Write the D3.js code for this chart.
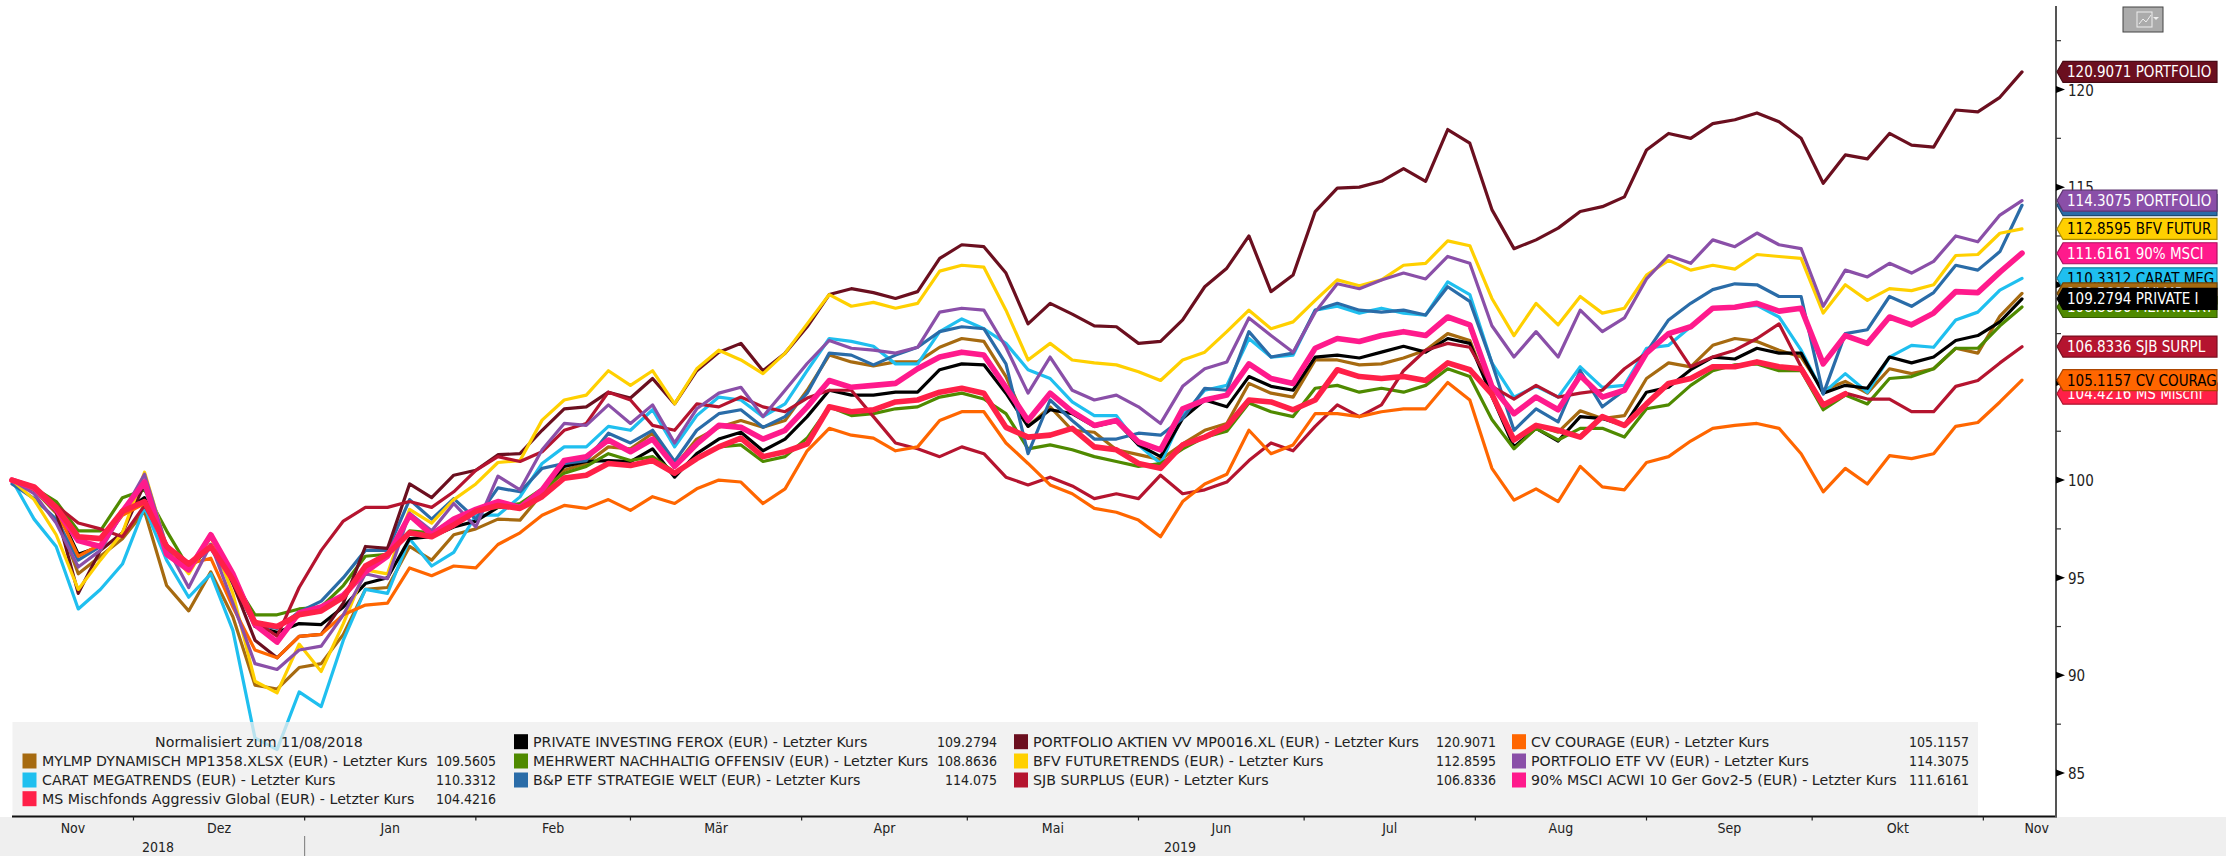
<!DOCTYPE html>
<html><head><meta charset="utf-8">
<script src="https://cdn.jsdelivr.net/npm/d3@7"></script>
<style>html,body{margin:0;padding:0;background:#fff;overflow:hidden}svg{display:block}text{font-family:"DejaVu Sans Condensed","DejaVu Sans",sans-serif}.wide{font-family:"DejaVu Sans",sans-serif}</style>
</head><body><svg id="c" width="2226" height="856"></svg>
<script>
const startDate = new Date(2018,10,9), endDate = new Date(2019,10,8);
const dates = d3.timeDay.range(startDate, new Date(2019,10,9), 4);
const monthLabels = ["Nov","Dez","Jan","Feb","Mär","Apr","Mai","Jun","Jul","Aug","Sep","Okt","Nov"];
const yearLabels = ["2018","2019"];
const yTicks = [85,90,95,100,105,110,115,120];
const seriesNames = ["MYLMP DYNAMISCH MP1358.XLSX (EUR) - Letzter Kurs","CARAT MEGATRENDS (EUR) - Letzter Kurs","MS Mischfonds Aggressiv Global (EUR) - Letzter Kurs","PRIVATE INVESTING FEROX (EUR) - Letzter Kurs","MEHRWERT NACHHALTIG OFFENSIV (EUR) - Letzter Kurs","B&P ETF STRATEGIE WELT (EUR) - Letzter Kurs","PORTFOLIO AKTIEN VV MP0016.XL (EUR) - Letzter Kurs","BFV FUTURETRENDS (EUR) - Letzter Kurs","SJB SURPLUS (EUR) - Letzter Kurs","CV COURAGE (EUR) - Letzter Kurs","PORTFOLIO ETF VV (EUR) - Letzter Kurs","90% MSCI ACWI 10 Ger Gov2-5 (EUR) - Letzter Kurs"];
const lastValues = ["109.5605","110.3312","104.4216","109.2794","108.8636","114.075","120.9071","112.8595","106.8336","105.1157","114.3075","111.6161"];
const tagNames = ["MYLMP","CARAT MEG","MS Mischf","PRIVATE I","MEHRWERT","B&P ETF","PORTFOLIO","BFV FUTUR","SJB SURPL","CV COURAG","PORTFOLIO","90% MSCI"];
const colors = ["#A66A10","#1FBFEF","#FF2048","#000000","#4F8A00","#2A6CA8","#6B0F1F","#FFD000","#B5142F","#FF6600","#8A4FA8","#FF1A8C"];
const tagText = ["#fff","#000","#fff","#fff","#fff","#fff","#fff","#000","#fff","#000","#fff","#fff"];

const brown = [100,99.5,98.3,95.2,96.1,97,98.4,94.6,93.3,95.3,93,89.5,89.3,90.4,90.6,92.1,94.4,94.5,96.6,95.9,97.2,97.5,98.0,
97.95,99.3,100.5,100.85,101.7,101.6,102.4,100.7,102.1,102.7,103.05,102.7,103.05,104.6,106.4,106.05,105.85,106.05,106.05,106.8,107.25,107.1,105.3,
102.75,103.75,102.55,102.45,101.55,101.3,101.05,101.85,102.55,102.9,104.95,104.45,104.25,106.15,106.15,105.9,105.95,106.25,106.65,107.5,107.15,104.3,
102.05,102.8,102.45,103.55,103.15,103.3,105.2,106,105.8,106.9,107.25,107.1,106.65,106.3,104.6,105.05,104.45,105.7,105.45,105.7,106.75,106.5,108.4,109.56];
const cyan = [100,98,96.6,93.4,94.4,95.7,98.6,95.9,94,95.2,92.3,86.8,86.2,89.15,88.4,91.8,94.4,94.2,97,95.6,96.3,98.2,98.2,
99.14,100.85,101.7,101.7,102.75,102.55,103.6,101.7,103.3,104.25,104.1,103.25,103.9,105.6,107.25,107.1,106.85,105.95,105.95,107.6,108.25,107.75,107,
105.65,105.2,104,103.3,103.3,101.8,100.85,103.3,104.6,104.85,107.25,106.3,106.4,108.7,108.9,108.55,108.8,108.55,108.45,110.15,109.5,106,
104.25,104.8,104.25,105.8,104.75,104.85,106.75,106.9,107.85,108.8,108.85,108.95,108.35,106.65,104.45,105.45,104.5,106.3,106.9,106.8,108.2,108.6,109.73,110.33];
const red = [100,99.65,98.6,97.1,97,98.4,98.9,96.6,95.7,96.6,94.9,92.7,92.5,93.1,93.3,94,95.6,96.2,97.3,97.1,97.7,98.4,98.7,
98.55,99.15,100.1,100.25,100.85,100.75,101,100.35,101.1,101.7,102.15,101.2,101.45,101.85,103.75,103.5,103.6,104,104.1,104.5,104.7,104.45,102.7,
102.2,102.3,102.65,101.7,101.55,100.85,100.6,101.8,102.2,102.75,104.1,104,103.6,104.1,105.65,105.3,105.2,105.3,105.1,106,105.65,104.4,
102.05,102.8,102.55,102.2,103.25,102.8,103.9,104.95,105.2,105.8,105.8,106.05,105.8,105.7,103.85,104.42];
const black = [100,99.5,98.6,96.2,96.6,98.3,99.1,96.4,95.4,96.7,94.9,92.5,92.2,92.65,92.6,93.5,94.7,95,97,97.1,97.6,97.9,98.6,
98.7,99.5,100.7,100.95,101,100.95,101.6,100.15,101.35,102.1,102.45,101.5,102.1,103.25,104.6,104.35,104.35,104.5,104.5,105.65,105.95,105.9,104.45,
102.75,103.6,103.4,102.75,103,101.8,101.2,103.15,104.1,103.75,105.3,104.8,104.6,106.3,106.4,106.25,106.55,106.85,106.55,107.25,107,104.3,
101.7,102.65,102,103.25,103.15,102.8,104.5,104.75,105.65,106.3,106.2,106.75,106.5,106.5,104.45,104.85,104.7,106.3,106,106.3,107.15,107.4,108.1,109.28];
const green = [100,99.6,98.9,97.4,97.4,99.1,99.5,97.4,95.5,96.6,94.9,93.1,93.1,93.4,93.5,94.6,96.1,96.2,97.4,97.3,98,98.5,98.6,
98.8,99.55,100.35,100.7,101.35,101,101.2,100.4,101.1,101.7,101.8,100.95,101.2,102.15,103.75,103.3,103.4,103.65,103.75,104.25,104.45,104.15,103.4,
101.6,101.8,101.55,101.2,100.95,100.7,100.85,101.6,102.2,102.5,103.95,103.5,103.25,104.7,104.85,104.5,104.7,104.5,104.85,105.7,105.3,103.1,
101.6,102.65,102.05,102.65,102.65,102.2,103.65,103.85,104.85,105.6,105.9,105.95,105.6,105.6,103.6,104.35,103.9,105.2,105.3,105.7,106.75,106.75,107.9,108.86];
const blue = [99.8,99.05,98,95.9,96.6,98.4,99.65,96.6,95.7,96.5,94.7,92.6,92.4,93.25,93.8,95,96.4,96.4,99,98,99.05,98,99.6,
99.4,100.6,100.85,101,102.4,101.9,102.55,100.95,102.55,103.4,103.6,102.7,103.25,104.45,106.5,106.4,105.9,106.4,106.8,107.6,107.85,107.75,105.95,
101.35,104.1,103.05,102.1,102.1,102.4,102.3,103.15,104.7,104.6,107.6,106.3,106.5,108.7,109.05,108.7,108.6,108.7,108.45,109.9,109.15,106,
102.55,103.65,102.98,105.6,103.75,104.6,106.55,108.2,109.05,109.75,110.05,110,109.4,109.4,104.4,107.5,107.7,109.4,108.9,109.6,111,110.75,111.7,114.07];
const maroon = [100,99.6,98.4,94.2,96.4,97.3,99.8,96.6,95.5,97.2,94.7,91.8,90.9,92,92.1,93.7,96.6,96.5,99.8,99.1,100.25,100.5,101.3,
101.35,102.55,103.65,103.75,104.5,104.2,105.2,103.9,105.6,106.55,107,105.6,106.5,107.85,109.5,109.8,109.6,109.3,109.65,111.35,112.05,111.95,110.6,
108,109.05,108.5,107.9,107.85,107,107.1,108.2,109.9,110.85,112.5,109.65,110.5,113.75,114.95,115,115.3,115.95,115.3,117.95,117.25,113.85,
111.85,112.3,112.9,113.75,114,114.5,116.9,117.75,117.5,118.25,118.45,118.8,118.35,117.5,115.2,116.65,116.45,117.75,117.15,117.05,118.95,118.85,119.6,120.9];
const yellow = [100,99,97.2,94.4,95.9,97.3,100.4,96.6,95.2,97.1,94.2,89.7,89.1,91.6,90.2,92.65,95.4,95.2,98.5,97.8,99,99.8,100.9,
101,103.07,104.1,104.35,105.6,104.85,105.6,103.9,105.7,106.65,106.15,105.45,106.5,108,109.5,108.9,109.1,108.8,109.05,110.7,111,110.9,108.7,
106.15,107,106.15,106,105.9,105.55,105.1,106.15,106.55,107.6,108.7,107.75,108.1,109.2,110.25,109.95,110.25,111,111.1,112.25,112,109.3,
107.4,109.05,107.95,109.4,108.55,108.8,110.5,111.25,110.75,111,110.8,111.55,111.45,111.35,108.55,110,109.2,109.8,109.7,110,111.5,111.55,112.64,112.86];
const crimson = [100,99.5,98.7,97.8,97.5,97.1,98.7,96.7,95.4,97.1,95.2,92.8,92,94.5,96.4,97.9,98.6,98.6,98.9,98.6,99.4,100.5,101.2,
100.95,101.45,102.55,102.9,104.5,104.1,102.8,102.55,103.9,103.75,104.25,103.75,103.5,104.2,104.6,104.6,103.25,101.9,101.6,101.2,101.7,101.35,100.15,
99.75,100.15,99.7,99.05,99.3,99.05,100.25,99.3,99.5,99.9,101,101.9,101.5,102.75,103.85,103.25,103.85,105.6,106.65,107,106.8,104.8,
104.15,104.85,104.25,104.45,104.6,105.7,106.5,107.5,105.8,106.3,106.65,107.25,108,105.8,103.85,104.45,104.15,104.15,103.5,103.5,104.8,105.1,106,106.83];
const orange = [100,99.5,98.5,96.1,96.7,98.2,98.8,96.6,95.7,96,93.5,91.3,90.9,92,92.1,93.1,93.6,93.7,95.5,95.1,95.6,95.5,96.7,
97.3,98.2,98.7,98.55,99,98.45,99.15,98.8,99.55,100,99.9,98.8,99.55,101.5,102.65,102.3,102.15,101.5,101.7,103.05,103.5,103.5,101.9,
100.85,99.75,99.3,98.55,98.35,97.95,97.1,98.9,99.8,100.3,102.55,101.35,101.8,103.4,103.4,103.25,103.5,103.65,103.65,105,104.1,100.6,
98.97,99.55,98.9,100.7,99.65,99.5,100.9,101.2,102,102.65,102.8,102.9,102.65,101.35,99.4,100.6,99.8,101.25,101.1,101.35,102.75,102.95,104,105.12];
const purple = [100,99.3,97.8,95.55,96.4,98.3,100.3,96.6,94.5,96.7,93.7,90.6,90.3,91.3,91.5,93.1,95.2,94.95,98.3,97.4,98.8,97.6,100.2,
99.5,101.55,102.9,102.8,103.85,102.9,103.85,101.9,103.65,104.45,104.75,103.25,104.6,105.97,107.15,106.75,106.65,106.5,106.8,108.6,108.8,108.7,106.8,
104.45,106.3,104.6,104.1,104.35,103.75,102.9,104.8,105.7,106.05,108.3,107.4,106.55,108.6,110.05,109.8,110.25,110.6,110.3,111.45,111.1,107.9,
106.3,107.6,106.3,108.7,107.6,108.3,110.3,111.5,111.1,112.3,111.95,112.65,112.05,111.85,108.9,110.75,110.4,111.1,110.6,111.2,112.5,112.2,113.57,114.31];
const pink = [100,99.6,98.5,96.9,96.6,98.4,99.9,96.2,95.4,97.2,95.2,92.6,91.7,93.2,93.5,94.1,95.3,96.1,98.2,97.2,98,98.5,98.9,
98.6,99.5,101,101.2,102.05,101.45,102.1,100.7,101.85,102.8,102.7,102.1,102.55,103.75,105.1,104.75,104.85,104.95,105.7,106.3,106.55,106.4,104.75,
103.05,104.45,103.5,102.8,103.05,101.95,101.55,103.65,104.1,104.35,105.95,105.2,104.95,106.75,107.25,107.1,107.4,107.6,107.4,108.35,107.95,104.8,
103.4,104.25,103.6,105.35,104.25,104.6,106.5,107.5,107.85,108.8,108.85,109.05,108.65,108.8,105.95,107.4,107,108.35,107.95,108.55,109.65,109.6,110.65,111.62];
const allSeries = [brown,cyan,red,black,green,blue,maroon,yellow,crimson,orange,purple,pink];

const W=2226,H=856,axisY=816.5,rightX=2056;
const svg=d3.select("#c");
const x=d3.scaleTime().domain([startDate,endDate]).range([12,2022]);
const y=d3.scaleLinear().domain([85,120]).range([773,89.5]);

svg.append("rect").attr("x",0).attr("y",817).attr("width",W).attr("height",H-817).attr("fill","#efefef");

const line=d3.line().x((d,i)=>x(dates[i])).y(d=>y(d)).curve(d3.curveLinear);
const drawOrder=[0,1,3,4,5,6,7,8,9,10,11,2];
svg.append("g").selectAll("path").data(drawOrder).join("path")
 .attr("d",i=>line(allSeries[i])).attr("fill","none").attr("stroke",i=>colors[i])
 .attr("stroke-width",i=>(i===2||i===11)?5.6:3.2).attr("stroke-linejoin","round").attr("stroke-linecap","round");

svg.append("rect").attr("x",12.5).attr("y",722).attr("width",1965.5).attr("height",94.5).attr("fill","#eeeeee").attr("fill-opacity",0.75);
const fs=14.2;
svg.append("text").attr("class","wide").attr("x",259).attr("y",746.7).attr("text-anchor","middle").attr("font-size",fs).attr("fill","#222").text("Normalisiert zum 11/08/2018");
const legendCols=[{sw:22.5,tx:42,vx:496,items:[[0,1],[1,2],[2,3]]},{sw:514,tx:533,vx:997,items:[[3,0],[4,1],[5,2]]},{sw:1014,tx:1033,vx:1496,items:[[6,0],[7,1],[8,2]]},{sw:1512,tx:1531,vx:1969,items:[[9,0],[10,1],[11,2]]}];
const rowY=[741.7,761,780,798.7];
legendCols.forEach(c=>c.items.forEach(([s,r])=>{
 svg.append("rect").attr("x",c.sw).attr("y",rowY[r]-7.5).attr("width",14).attr("height",15).attr("fill",colors[s]);
 svg.append("text").attr("class","wide").attr("x",c.tx).attr("y",rowY[r]+5).attr("font-size",fs).attr("fill","#222").text(seriesNames[s]);
 svg.append("text").attr("x",c.vx).attr("y",rowY[r]+5).attr("text-anchor","end").attr("font-size",14).attr("fill","#222").text(lastValues[s]);
}));

svg.append("line").attr("x1",12).attr("x2",rightX+1).attr("y1",axisY).attr("y2",axisY).attr("stroke","#111").attr("stroke-width",2);
const monthStarts=d3.timeMonth.range(new Date(2018,11,1),new Date(2019,11,1));
svg.append("g").selectAll("line").data(monthStarts).join("line")
 .attr("x1",d=>x(d)).attr("x2",d=>x(d)).attr("y1",axisY).attr("y2",axisY+4).attr("stroke","#222").attr("stroke-width",1.2);
const edges=[new Date(2018,10,1),...monthStarts];
svg.append("g").selectAll("text").data(monthLabels).join("text")
 .attr("x",(d,i)=> i===0 ? 73 : i===12 ? (x(monthStarts[11])+rightX)/2+17 : (x(edges[i])+x(edges[i+1]))/2)
 .attr("y",833).attr("text-anchor","middle").attr("font-size",14).attr("fill","#222").text(d=>d);
const yearX=[158,1180];
svg.append("g").selectAll("text").data(yearLabels).join("text").attr("x",(d,i)=>yearX[i]).attr("y",852).attr("text-anchor","middle").attr("font-size",14).attr("fill","#222").text(d=>d);
svg.append("line").attr("x1",x(new Date(2019,0,1))).attr("x2",x(new Date(2019,0,1))).attr("y1",836).attr("y2",856).attr("stroke","#777").attr("stroke-width",1);

svg.append("line").attr("x1",rightX).attr("x2",rightX).attr("y1",6).attr("y2",817).attr("stroke","#555").attr("stroke-width",2);
const minor=d3.range(87.5,125,5);
svg.append("g").selectAll("line").data(minor).join("line").attr("x1",rightX).attr("x2",rightX+5).attr("y1",d=>y(d)).attr("y2",d=>y(d)).attr("stroke","#333").attr("stroke-width",1.2);
svg.append("g").selectAll("path").data(yTicks).join("path").attr("d",d=>`M${rightX},${y(d)-3.5}L${rightX+9},${y(d)}L${rightX},${y(d)+3.5}Z`).attr("fill","#000");
svg.append("g").selectAll("text").data(yTicks).join("text").attr("x",2068).attr("y",d=>y(d)+6).attr("font-size",15).attr("fill","#222").text(d=>d);

const tagOrder=[5,10,7,11,1,0,4,3,8,2,9,6];
const tag=svg.append("g").selectAll("g").data(tagOrder).join("g").attr("transform",i=>`translate(0,${y(+lastValues[i])})`);
tag.append("path").attr("d",`M${rightX+1},0L${rightX+7},-10.5H2217V10.5H${rightX+7}Z`).attr("fill",i=>colors[i]).attr("stroke",i=>d3.color(colors[i]).darker(1.1)).attr("stroke-width",1.2);
tag.append("text").attr("x",2067).attr("y",5.5).attr("font-size",15).attr("fill",i=>tagText[i]).text(i=>lastValues[i]+" "+tagNames[i]);

const btn=svg.append("g");
btn.append("rect").attr("x",2123).attr("y",7).attr("width",40).attr("height",25).attr("fill","#ababab").attr("stroke","#444").attr("stroke-width",1);
btn.append("rect").attr("x",2137).attr("y",12).attr("width",15).attr("height",15).attr("fill","none").attr("stroke","#eee").attr("stroke-width",1);
btn.append("path").attr("d","M2139,24L2143,19L2146,22L2151,15").attr("fill","none").attr("stroke","#eee").attr("stroke-width",1);
btn.append("path").attr("d","M2153,17h6l-3,3Z").attr("fill","#eee");
</script></body></html>
